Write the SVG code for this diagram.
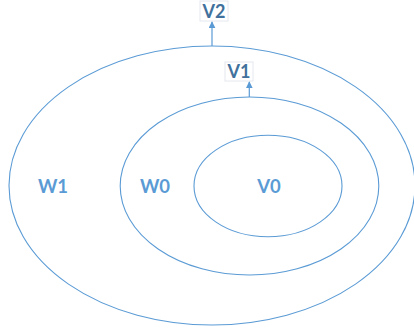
<svg xmlns="http://www.w3.org/2000/svg" width="414" height="331" viewBox="0 0 414 331">
<style>
.ring{fill:none;stroke:#5b9bd5;stroke-width:1.1}
.lbl{font-family:Lato,"Liberation Sans",sans-serif;font-weight:bold;font-size:18.5px;fill:#5b9bd5;text-anchor:middle}
.tag{font-family:Lato,"Liberation Sans",sans-serif;font-weight:bold;font-size:18px;fill:#41719c;text-anchor:middle}
.box{fill:#fff;stroke:#e4e8ee;stroke-width:1}
.conn{stroke:#5b9bd5;stroke-width:1.2;fill:none}
</style>
<defs>
<marker id="ah" viewBox="0 0 10 10" refX="9" refY="5" markerWidth="7" markerHeight="7" orient="auto" markerUnits="userSpaceOnUse">
<path d="M0,0 L10,5 L0,10 z" fill="#5b9bd5"/>
</marker>
</defs>
<g id="W1"><ellipse class="ring" cx="212" cy="185.5" rx="203" ry="139.5"/><text class="lbl" x="53" y="193">W1</text></g>
<g id="W0"><ellipse class="ring" cx="249.5" cy="186" rx="129.3" ry="89"/><text class="lbl" x="155" y="193">W0</text></g>
<g id="V0"><ellipse class="ring" cx="268" cy="186" rx="74" ry="50.7"/><text class="lbl" x="269" y="193">V0</text></g>
<g id="V2"><rect class="box" x="200" y="1" width="28" height="20"/><text class="tag" x="214" y="18">V2</text></g>
<g id="V1"><rect class="box" x="225" y="62" width="28" height="19"/><text class="tag" x="239" y="78">V1</text></g>
<g id="connectors">
<line class="conn" x1="212" y1="46" x2="212" y2="22" marker-end="url(#ah)"/>
<line class="conn" x1="249.3" y1="97" x2="249.3" y2="82" marker-end="url(#ah)"/>
</g>
</svg>
